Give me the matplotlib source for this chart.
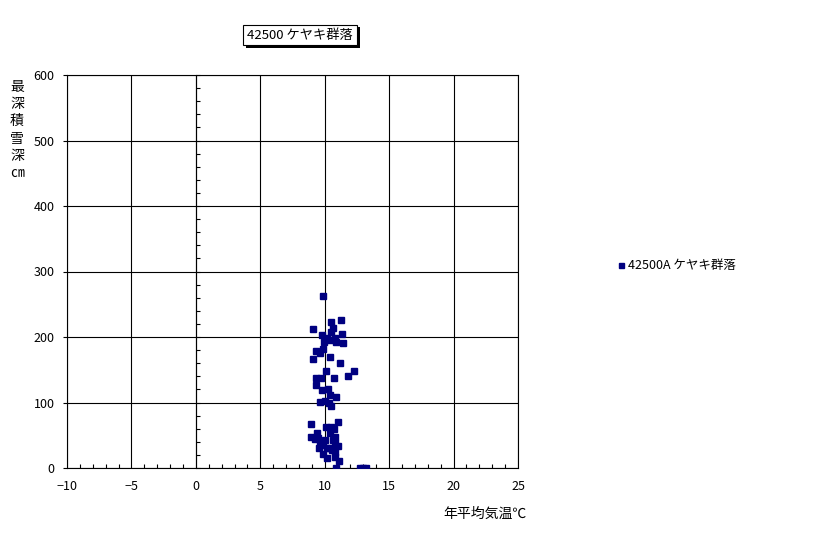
import matplotlib
matplotlib.use("Agg")
import matplotlib.pyplot as plt
import matplotlib.patheffects as pe
from matplotlib.ticker import MultipleLocator

plt.rcParams['font.family'] = ['Noto Sans CJK JP', 'DejaVu Sans']

# annual mean temperature (deg C) and max snow depth (cm)
temp = [9.83, 10.45, 11.25, 10.65, 9.1, 10.45, 11.37, 9.78, 10.14, 10.8, 10.4, 10.86, 11.43, 9.97,
        9.31, 9.88, 9.62, 9.1, 10.4, 11.17, 12.26, 11.8, 10.1, 9.36, 9.7, 10.7, 9.36, 9.81, 10.26,
        10.4, 10.86, 9.62, 10.0, 10.35, 10.52,
        8.97, 10.13, 10.45, 11.0, 10.73, 9.41, 8.97, 10.4, 10.78, 9.23, 9.62, 9.88, 10.65, 10.78,
        11.0, 9.57, 10.4, 9.88, 10.14, 10.78, 10.83, 11.1, 10.86, 12.7, 12.95, 13.2,
        9.5, 10.0, 10.2, 10.6]
snow = [263, 223, 226, 214, 212, 208, 204, 203, 199, 199, 195, 193, 191, 192,
        179, 182, 175, 167, 170, 160, 148, 141, 148, 138, 138, 137, 127, 119, 120,
        111, 109, 101, 102, 99, 94,
        67, 63, 63, 70, 60, 54, 48, 53, 48, 45, 40, 35, 43, 38,
        33, 30, 31, 22, 16, 24, 17, 11, 0, 0, 0, 0,
        46, 42, 30, 28]

title = "42500 ケヤキ群落"
series_name = "42500A ケヤキ群落"

fig = plt.figure(figsize=(8.16, 5.34), dpi=100)
ax = fig.add_axes([67 / 816, 1 - 468 / 534, 451 / 816, 393 / 534])

ax.plot(temp, snow, linestyle="none", marker="s", markersize=4,
        color="#000080", label=series_name, zorder=3)

ax.set_xlim(-10, 25)
ax.set_ylim(0, 600)
ax.xaxis.set_major_locator(MultipleLocator(5))
ax.xaxis.set_minor_locator(MultipleLocator(1))
ax.yaxis.set_major_locator(MultipleLocator(100))
ax.grid(True, which="major", color="black", linewidth=0.8)
ax.set_axisbelow(True)
for s in ax.spines.values():
    s.set_linewidth(0.8)
ax.tick_params(axis="x", which="minor", direction="in", length=3, width=0.8)
ax.tick_params(axis="x", which="major", length=0, labelsize=9, pad=9)
ax.tick_params(axis="y", which="major", direction="out", length=3, width=0.8, labelsize=9, pad=6)

# value axis crosses at x = 0
sec = ax.secondary_yaxis(10 / 35)
sec.spines["left"].set_linewidth(0.8)
sec.yaxis.set_major_locator(MultipleLocator(100))
sec.yaxis.set_minor_locator(MultipleLocator(20))
sec.tick_params(which="both", direction="in", length=3, width=0.8, labelleft=False)

fig.text(17 / 816, 1 - 130 / 534, "最\n深\n積\n雪\n深\n㎝", ha="center", va="center",
         fontsize=10, linespacing=1.3)
fig.text(485 / 816, 1 - 514 / 534, "年平均気温℃", ha="center", va="center", fontsize=10)

t = fig.text(300 / 816, 1 - 35 / 534, title, ha="center", va="center", fontsize=9.5,
             bbox=dict(boxstyle="square,pad=0.3", facecolor="white", edgecolor="black", linewidth=0.8))
t.get_bbox_patch().set_path_effects([pe.withSimplePatchShadow(offset=(2, -2), shadow_rgbFace="black", alpha=1)])

fig.legend(loc="center left", bbox_to_anchor=(606 / 816, 1 - 266 / 534), frameon=False,
           fontsize=9, handlelength=0.6, handletextpad=0.3, markerscale=0.9)

fig.savefig("out.png", dpi=100)
